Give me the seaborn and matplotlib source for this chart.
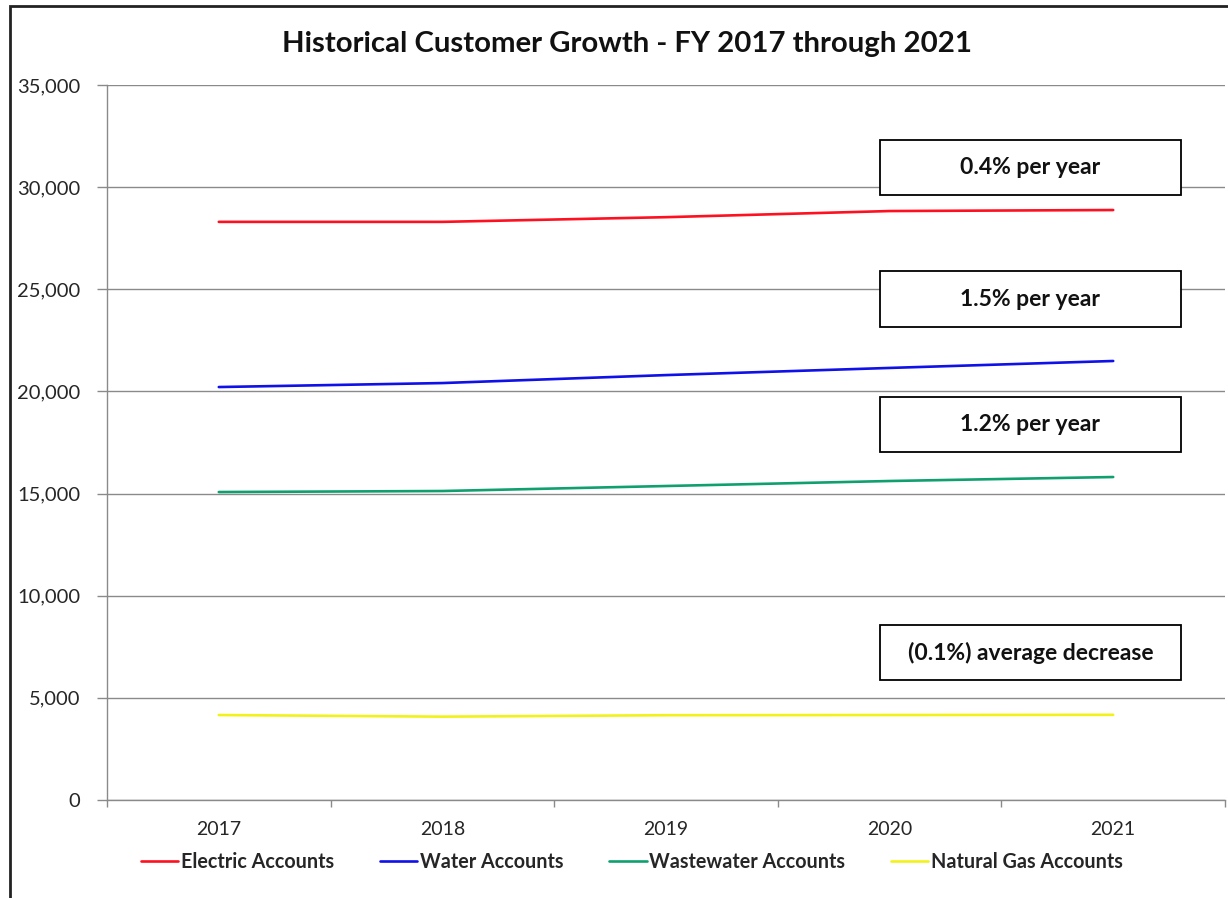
import matplotlib
matplotlib.use("Agg")
import matplotlib.pyplot as plt
from matplotlib.patches import Rectangle
from matplotlib.lines import Line2D
import numpy as np
import pandas as pd
import seaborn as sns

# Fiscal years and account counts
years = ["2017", "2018", "2019", "2020", "2021"]
electric = [28300, 28300, 28530, 28830, 28880]
water = [20215, 20410, 20800, 21150, 21490]
wastewater = [15075, 15125, 15370, 15615, 15810]
natural_gas = [4160, 4080, 4150, 4160, 4170]

series_names = ["Electric Accounts", "Water Accounts", "Wastewater Accounts", "Natural Gas Accounts"]
series_colors = ["#FF1020", "#1010E8", "#10A070", "#F2F21A"]
growth_labels = ["0.4% per year", "1.5% per year", "1.2% per year", "(0.1%) average decrease"]
yticks = [0, 5000, 10000, 15000, 20000, 25000, 30000, 35000]

sns.set_style("white")
plt.rcParams["font.family"] = ["Lato", "DejaVu Sans"]

df = pd.DataFrame({
    "Year": years * 4,
    "Accounts": electric + water + wastewater + natural_gas,
    "Series": sum([[n] * len(years) for n in series_names], []),
})
df["pos"] = df["Year"].map({y: i for i, y in enumerate(years)})

fig = plt.figure(figsize=(12.28, 8.98), dpi=100)
ax = fig.add_axes([107 / 1228, 1 - 800 / 898, 1118 / 1228, 715 / 898])

sns.lineplot(data=df, x="pos", y="Accounts", hue="Series", hue_order=series_names,
             palette=series_colors, linewidth=1.9, legend=False, ax=ax)

ax.set_xlim(-0.5, len(years) - 0.5)
ax.set_ylim(0, 35000)
ax.set_yticks(yticks)
ax.set_yticklabels([f"{v:,}" for v in yticks])
ax.set_xticks(range(len(years)))
ax.set_xticklabels(years)
ax.set_xticks(np.arange(-0.5, len(years)), minor=True)
ax.set_xlabel("")
ax.set_ylabel("")

ax.yaxis.grid(True, color="#8a8a8a", linewidth=1.0)
ax.set_axisbelow(True)
for side in ["top", "right"]:
    ax.spines[side].set_visible(False)
for side in ["left", "bottom"]:
    ax.spines[side].set_color("#8a8a8a")
    ax.spines[side].set_linewidth(1.0)

ax.tick_params(axis="y", which="major", length=7, width=1, color="#8a8a8a",
               pad=12, labelsize=14.5, labelcolor="#262626", left=True)
ax.tick_params(axis="x", which="major", length=0, pad=15, labelsize=14, labelcolor="#262626")
ax.tick_params(axis="x", which="minor", length=5, width=1, color="#8a8a8a", bottom=True)

# Growth-rate boxes (axes fraction layout)
box_bottoms = [0.8462, 0.6615, 0.4867, 0.1678]
box_heights = [0.0769, 0.0783, 0.0769, 0.0769]
for label, b, h in zip(growth_labels, box_bottoms, box_heights):
    ax.add_patch(Rectangle((0.6914, b), 0.2692, h, transform=ax.transAxes,
                           facecolor="white", edgecolor="black", linewidth=1.3, zorder=5))
    ax.text(0.6914 + 0.2692 / 2, b + h / 2, label, transform=ax.transAxes,
            ha="center", va="center", fontsize=16.5, fontweight="bold", color="#111111", zorder=6)

fig.text(627 / 1228, 1 - 44 / 898, "Historical Customer Growth - FY 2017 through 2021",
         ha="center", va="center", fontsize=21.2, fontweight="bold", color="#111111")

handles = [Line2D([0], [0], color=c, linewidth=1.9) for c in series_colors]
leg = fig.legend(handles, series_names, loc="center", bbox_to_anchor=(632 / 1228, 1 - 862 / 898),
                 ncol=4, frameon=False, handlelength=1.9, handletextpad=0.15, columnspacing=2.3,
                 prop={"weight": "bold", "size": 14.2})

# Outer chart frame
fig.patches.append(Rectangle((10 / 1228, -0.05), 1.2, 1 - 6 / 898 + 0.05, transform=fig.transFigure,
                             fill=False, edgecolor="#222222", linewidth=2.0, clip_on=False))

fig.savefig("out.png", dpi=100)
